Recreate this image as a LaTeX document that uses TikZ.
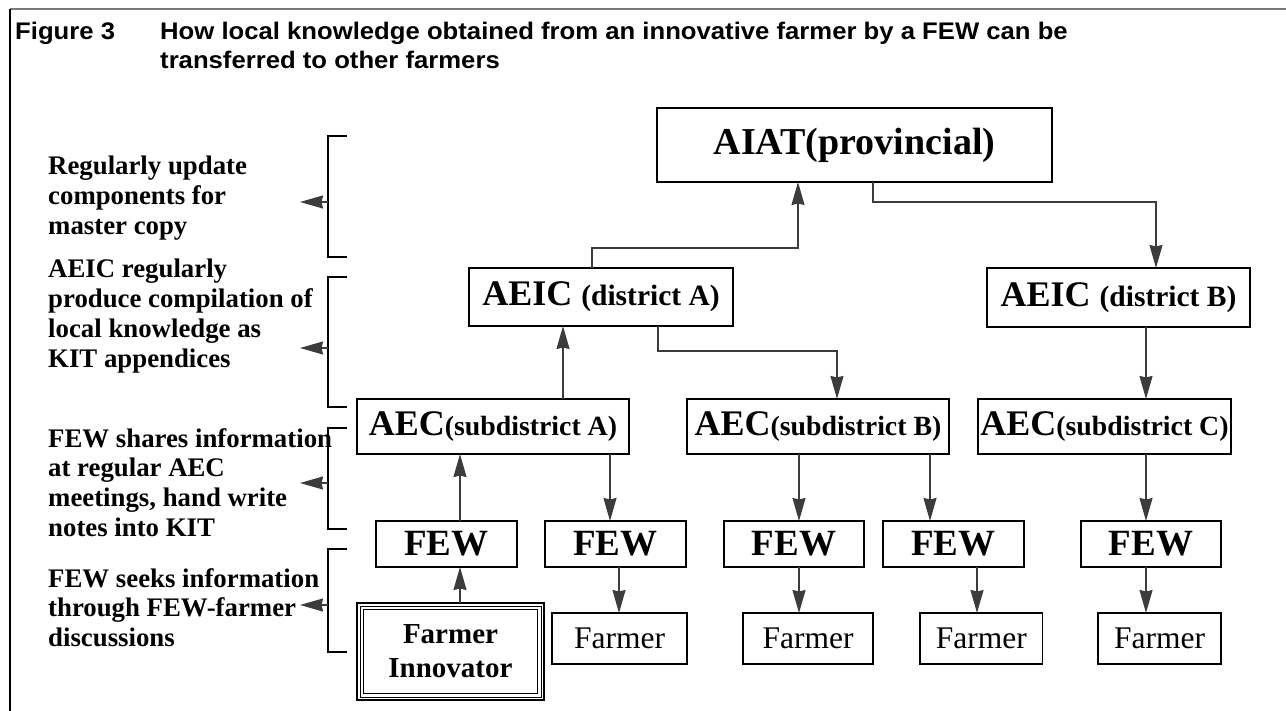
\documentclass[tikz,border=0pt]{standalone}
\usepackage{fontspec}
\setmainfont{Liberation Serif}
\newfontfamily\titlefont[FakeStretch=1.07]{Liberation Sans}
\usetikzlibrary{arrows.meta}
\definecolor{arrowgray}{HTML}{3C3C3C}
\definecolor{framegray}{HTML}{7A7A7A}
\begin{document}
\begin{tikzpicture}[x=1pt,y=-1pt,
  box/.style={draw=black, line width=1.4pt, rectangle, inner sep=0pt, outer sep=0pt, align=center},
  conn/.style={draw=arrowgray, line width=1.5pt, -{Stealth[length=23pt,width=13pt,inset=1.5pt]}},
  brk/.style={draw=black, line width=1.4pt},
  note/.style={anchor=base west, inner sep=0pt, align=left, font=\fontsize{26.8}{29.7}\selectfont\bfseries},
  ttl/.style={anchor=base west, inner sep=0pt, align=left, font=\titlefont\bfseries\fontsize{24}{28.3}\selectfont},
  farmerbox/.style={box, minimum height=51pt, font=\fontsize{31.5}{34}\selectfont},
  fewbox/.style={box, minimum height=46pt, font=\fontsize{37}{40}\selectfont\bfseries}]
\useasboundingbox (0,0) rectangle (1286,711);

% frame
\draw[framegray, line width=2pt] (10,9.5) -- (1286,9.5);
\draw[black, line width=1.3pt] (10,9.5) -- (10,711);

% title (base anchor = last line's baseline)
\node[ttl] (fig) at (15,40) {Figure 3};
\node[ttl] (title) at (160,68.3) {How local knowledge obtained from an innovative farmer by a FEW can be\\transferred to other farmers};

% left notes (base anchor = last line's baseline)
\node[note] (n1) at (48,234.4) {Regularly update\\components for\\master copy};
\node[note] (n2) at (48,367.1) {AEIC regularly\\produce compilation of\\local knowledge as\\KIT appendices};
\node[note] (n3) at (48,536.1) {FEW shares information\\at regular AEC\\meetings, hand write\\notes into KIT};
\node[note] (n4) at (48,646.4) {FEW seeks information\\through FEW-farmer\\discussions};

% brackets
\draw[brk] (347,136) -- (328,136) -- (328,257) -- (347,257);
\draw[brk] (347,277) -- (328,277) -- (328,407) -- (347,407);
\draw[brk] (347,428) -- (328,428) -- (328,529) -- (347,529);
\draw[brk] (347,549) -- (328,549) -- (328,652) -- (347,652);
\coordinate (k1) at (328,202);
\coordinate (k2) at (328,348);
\coordinate (k3) at (328,483);
\coordinate (k4) at (328,605);
\draw[conn] (k1) -- ++(-28,0);
\draw[conn] (k2) -- ++(-28,0);
\draw[conn] (k3) -- ++(-28,0);
\draw[conn] (k4) -- ++(-28,0);

% nodes
\node[box, minimum width=395pt, minimum height=74pt, font=\fontsize{38}{40}\selectfont\bfseries] (AIAT) at (854.5,145) {AIAT(provincial)};
\node[box, minimum width=264pt, minimum height=58pt, font=\bfseries] (distA) at (601,297)
  {{\fontsize{36}{38}\selectfont AEIC}\hspace{9pt}{\fontsize{29.5}{31}\selectfont(district A)}};
\node[box, minimum width=263pt, minimum height=59pt, font=\bfseries] (distB) at (1118.5,297.5)
  {{\fontsize{36}{38}\selectfont AEIC}\hspace{9pt}{\fontsize{29.5}{31}\selectfont(district B)}};
\node[box, minimum width=272pt, minimum height=55pt, font=\bfseries] (AECA) at (493,426.5)
  {{\fontsize{36}{39}\selectfont AEC}{\fontsize{27.8}{30}\selectfont(subdistrict A)}};
\node[box, minimum width=262pt, minimum height=55pt, font=\bfseries] (AECB) at (818,426.5)
  {{\fontsize{36}{39}\selectfont AEC}{\fontsize{27.8}{30}\selectfont(subdistrict B)}};
\node[box, minimum width=253pt, minimum height=55pt, font=\bfseries] (AECC) at (1104.5,426.5)
  {{\fontsize{36}{39}\selectfont AEC}{\fontsize{27.8}{30}\selectfont(subdistrict C)}};

\node[fewbox, minimum width=141pt] (FEW1) at (446.5,544) {FEW};
\node[fewbox, minimum width=141pt] (FEW2) at (615.5,544) {FEW};
\node[fewbox, minimum width=140pt] (FEW3) at (794,544) {FEW};
\node[fewbox, minimum width=141pt] (FEW4) at (953.5,544) {FEW};
\node[fewbox, minimum width=140pt] (FEW5) at (1151,544) {FEW};

\node[box, line width=1.2pt, minimum width=187pt, minimum height=97pt, font=\fontsize{29}{34}\selectfont\bfseries] (FI) at (450.5,651.5) {Farmer\\Innovator};
\draw[black, line width=1pt] ([xshift=3pt,yshift=-3pt]FI.north west) rectangle ([xshift=-3pt,yshift=3pt]FI.south east);
\draw[black, line width=1.4pt] ([xshift=6.5pt,yshift=-6.5pt]FI.north west) rectangle ([xshift=-6.5pt,yshift=6.5pt]FI.south east);

\node[farmerbox, minimum width=135pt] (F1) at (619.5,638.5) {Farmer};
\node[farmerbox, minimum width=130pt] (F2) at (808,638.5) {Farmer};
\node[farmerbox, minimum width=122.5pt] (F3) at (981.25,638.5) {Farmer};
\node[farmerbox, minimum width=123pt] (F4) at (1159.5,638.5) {Farmer};

% connectors
\draw[conn] ([xshift=18.5pt]AIAT.south) -- ++(0,20) -| ([xshift=37.5pt]distB.north);
\draw[conn] ([xshift=-9pt]distA.north) -- ++(0,-20) -| ([xshift=-56.5pt]AIAT.south);
\draw[conn] ([xshift=70pt]AECA.north) -- ([xshift=70pt]AECA.north |- distA.south);
\draw[conn] ([xshift=57pt]distA.south) -- ++(0,25) -| ([xshift=19pt]AECB.north);
\draw[conn] ([xshift=27.5pt]distB.south) -- ([xshift=27.5pt]distB.south |- AECC.north);

\draw[conn] ([xshift=13.5pt]FEW1.north) -- ([xshift=13.5pt]FEW1.north |- AECA.south);
\draw[conn] ([xshift=117pt]AECA.south) -- ([xshift=117pt]AECA.south |- FEW2.north);
\draw[conn] ([xshift=-19pt]AECB.south) -- ([xshift=-19pt]AECB.south |- FEW3.north);
\draw[conn] ([xshift=112pt]AECB.south) -- ([xshift=112pt]AECB.south |- FEW4.north);
\draw[conn] ([xshift=41.5pt]AECC.south) -- ([xshift=41.5pt]AECC.south |- FEW5.north);

\draw[conn] ([xshift=9.5pt]FI.north) -- ([xshift=9.5pt]FI.north |- FEW1.south);
\draw[conn] ([xshift=3.5pt]FEW2.south) -- ([xshift=3.5pt]FEW2.south |- F1.north);
\draw[conn] ([xshift=5pt]FEW3.south) -- ([xshift=5pt]FEW3.south |- F2.north);
\draw[conn] ([xshift=23.5pt]FEW4.south) -- ([xshift=23.5pt]FEW4.south |- F3.north);
\draw[conn] ([xshift=-5pt]FEW5.south) -- ([xshift=-5pt]FEW5.south |- F4.north);
\end{tikzpicture}
\end{document}
